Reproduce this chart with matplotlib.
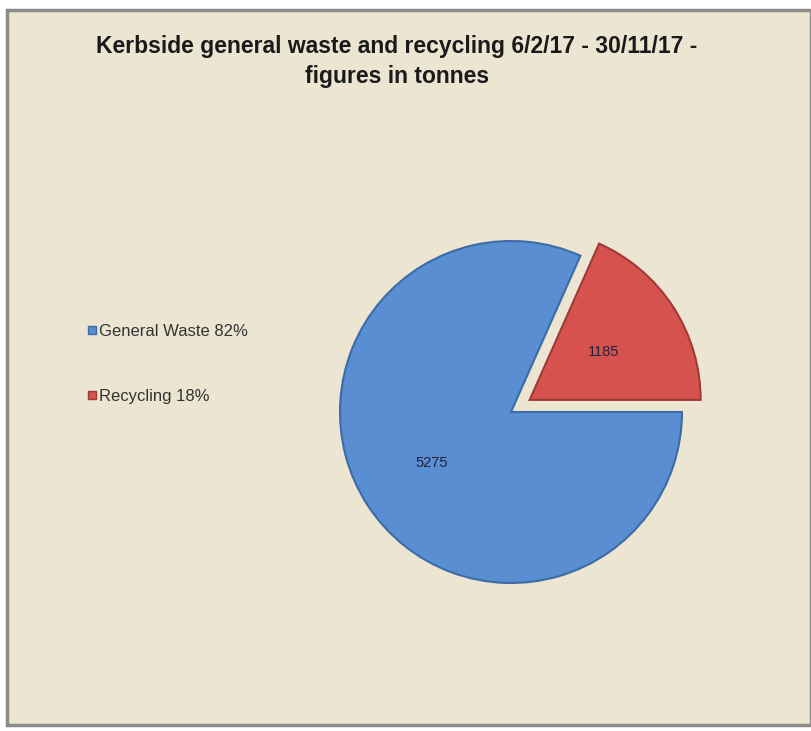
import matplotlib.pyplot as plt
from matplotlib.patches import Rectangle

# Data
categories = ['General Waste', 'Recycling']
tonnes = [5275, 1185]
legend_labels = ['General Waste 82%', 'Recycling 18%']
colors = ['#5A8ED2', '#D5524F']
edge_colors = ['#3D6BA6', '#9E3B38']

W, H = 811, 731
fig = plt.figure(figsize=(W / 100, H / 100), dpi=100, facecolor='white')

# chart area background with border
fig.patches.append(Rectangle((7 / W, 1 - 725 / H), (W - 7) / W, (725 - 10) / H,
                             transform=fig.transFigure, facecolor='#EBE5D1',
                             edgecolor='#8C8C88', linewidth=2.5, zorder=-5))

fig.text(397 / W, 1 - 46 / H, 'Kerbside general waste and recycling 6/2/17 - 30/11/17 -',
         ha='center', va='center', fontsize=16.5, fontweight='bold',
         family='Liberation Sans', color='#1a1a1a')
fig.text(397 / W, 1 - 77 / H, 'figures in tonnes',
         ha='center', va='center', fontsize=16.5, fontweight='bold',
         family='Liberation Sans', color='#1a1a1a')

# pie axes: centre at (511, 412) px, radius 171 px
cx, cy, r, m = 511, H - 412, 171, 1.4
ax = fig.add_axes([(cx - r * m) / W, (cy - r * m) / H, 2 * r * m / W, 2 * r * m / H])
ax.set_facecolor('none')

start = 360 * tonnes[1] / sum(tonnes)
wedges, texts, autotexts = ax.pie(
    tonnes, colors=colors, startangle=start, counterclock=True,
    explode=[0, 0.13], radius=1.0, pctdistance=0.55,
    autopct=lambda p: f'{round(p * sum(tonnes) / 100):d}',
    wedgeprops=dict(linewidth=1.5),
    textprops=dict(fontsize=10.5, color='#22223a', family='Liberation Sans'))
for w, ec in zip(wedges, edge_colors):
    w.set_edgecolor(ec)
autotexts[1].set_position((autotexts[1].get_position()[0] * 0.95,
                           autotexts[1].get_position()[1] * 0.95))
ax.set_xlim(-m, m)
ax.set_ylim(-m, m)
ax.set_aspect('equal')
ax.axis('off')

handles = [plt.Line2D([], [], marker='s', linestyle='', markersize=6,
                      markerfacecolor=c, markeredgecolor=ec)
           for c, ec in zip(colors, edge_colors)]
fig.legend(handles, legend_labels, loc='upper left',
           bbox_to_anchor=(72 / W, 1 - 309 / H), frameon=False,
           handlelength=0.6, handletextpad=0.1, labelspacing=3.0,
           prop=dict(family='Liberation Sans', size=12), labelcolor='#333333')

fig.savefig('out.png', dpi=100, facecolor='white')
